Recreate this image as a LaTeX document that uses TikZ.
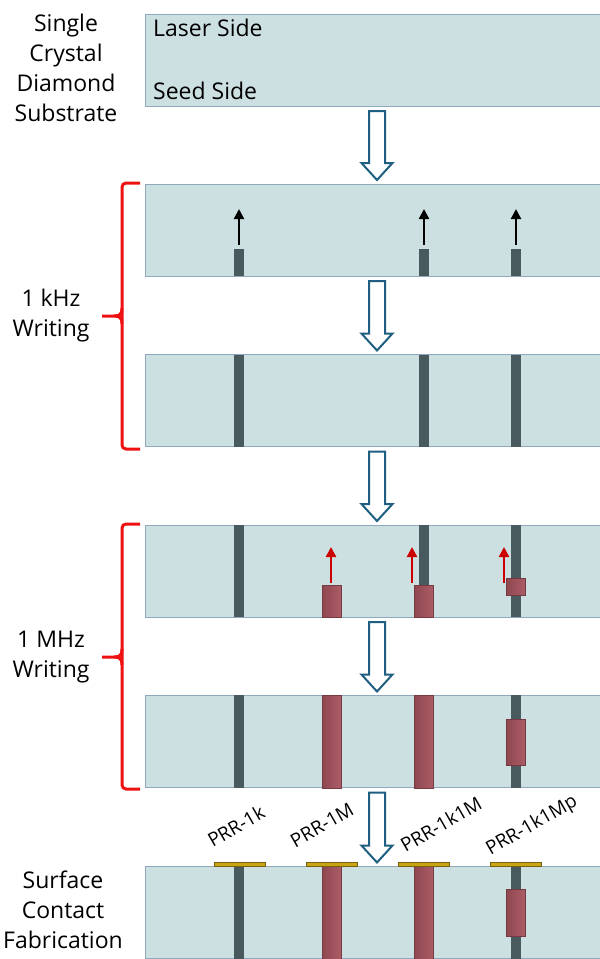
\documentclass[tikz,border=0pt]{standalone}
\usepackage{fontspec}
\setmainfont{Open Sans}
\usetikzlibrary{calc,arrows.meta}
\definecolor{boxfill}{HTML}{CDE0E1}
\definecolor{boxline}{HTML}{8FA9BC}
\definecolor{barc}{HTML}{485A5E}
\definecolor{pillarc}{HTML}{A8545E}
\definecolor{arrowc}{HTML}{1E5F82}
\definecolor{goldc}{HTML}{C8A416}
\definecolor{bracec}{HTML}{EE1111}
\definecolor{redarrow}{HTML}{CC0000}
\newcommand\flowarrow[2]{%
  \draw[flowline] ($(#1.south)+(-4,5)$) -- ($(#1.south)+(12,5)$) -- ($(#2.north)+(12,-21)$) -- ($(#2.north)+(19.5,-21)$) -- ($(#2.north)+(4,-4)$) -- ($(#2.north)+(-11.5,-21)$) -- ($(#2.north)+(-4,-21)$) -- cycle;}
\begin{document}
\begin{tikzpicture}[x=1pt,y=-1pt,
  panel/.style={draw=boxline,line width=0.8pt,fill=boxfill,minimum width=456pt,minimum height=92pt,inner sep=0pt,outer sep=0pt},
  flowline/.style={draw=arrowc,line width=2pt,fill=white,line join=miter},
  barfill/.style={fill=barc},
  pillar/.style={left color=pillarc!85!black,right color=pillarc!95!white,draw=pillarc!70!black,line width=0.4pt},
  pad/.style={fill=goldc,draw=goldc!60!black,line width=0.4pt},
  uparrow/.style={line width=2.2pt,-{Triangle[width=10pt,length=10pt]}},
  brace/.style={draw=bracec,line width=3pt,rounded corners=4pt},
  sidelabel/.style={align=center,font=\fontsize{23}{30}\selectfont,inner sep=0pt},
  txt/.style={font=\fontsize{23}{30}\selectfont,inner sep=0pt},
  prr/.style={font=\fontsize{19}{22}\selectfont,rotate=30,inner sep=0pt}]
\useasboundingbox (0,0) rectangle (600,959);
% panels
\node[panel] (p1) at (373,60) {};
\node[panel] (p2) at (373,230) {};
\node[panel] (p3) at (373,400.5) {};
\node[panel] (p4) at (373,571) {};
\node[panel] (p5) at (373,741.5) {};
\node[panel] (p6) at (373,912.5) {};
% panel 1 text
\node[txt,anchor=base west] (ls) at (153,36) {Laser Side};
\node[txt,anchor=base west] (ss) at (153,99) {Seed Side};
% panel 2: short bars + black arrows
\foreach \xx/\nm in {239/a,424/b,516/c}{
  \fill[barfill] (\xx-5,249) rectangle (\xx+5,276);
  \coordinate (b2\nm) at (\xx,245);
  \coordinate (t2\nm) at (\xx,209);
  \draw[uparrow] (b2\nm) -- (t2\nm);
}
% panel 3: full bars
\foreach \xx in {239,424,516}{
  \fill[barfill] (\xx-5,354.5) rectangle (\xx+5,446.5);
}
% panel 4
\foreach \xx in {239,424,516}{
  \fill[barfill] (\xx-5,525) rectangle (\xx+5,617);
}
\draw[pillar] (322,585) rectangle (341,617);
\draw[pillar] (414.5,585) rectangle (433.5,617);
\draw[pillar] (506.5,578) rectangle (525.5,595);
\foreach \xx/\nm in {331/a,412/b,504/c}{
  \coordinate (b4\nm) at (\xx,583);
  \coordinate (t4\nm) at (\xx,547);
  \draw[uparrow,draw=redarrow,fill=redarrow,line width=2.4pt] (b4\nm) -- (t4\nm);
}
% panel 5
\fill[barfill] (234,695) rectangle (244,788);
\fill[barfill] (511,695) rectangle (521,788);
\draw[pillar] (322,695) rectangle (341,788);
\draw[pillar] (414.5,695) rectangle (433.5,788);
\draw[pillar] (506.5,719) rectangle (525.5,765);
% panel 6
\fill[barfill] (234,866) rectangle (244,959);
\fill[barfill] (511,866) rectangle (521,959);
\draw[pillar] (322,866) rectangle (341,959);
\draw[pillar] (414.5,866) rectangle (433.5,959);
\draw[pillar] (506.5,889) rectangle (525.5,936);
\foreach \xx in {239.5,331.5,424,516}{
  \draw[pad] (\xx-25.5,862) rectangle (\xx+25.5,866);
}
% labels
\node[prr] (q1) at (236,826) {PRR-1k};
\node[prr] (q2) at (322,825) {PRR-1M};
\node[prr] (q3) at (441,824) {PRR-1k1M};
\node[prr] (q4) at (532,826) {PRR-1k1Mp};
% flow arrows
\flowarrow{p1}{p2}
\flowarrow{p2}{p3}
\flowarrow{p3}{p4}
\flowarrow{p4}{p5}
\flowarrow{p5}{p6}
% braces
\draw[brace] (140,183) -- (122,183) -- (122,449) -- (140,449);
\draw[draw=bracec,line width=3pt] (122,308) .. controls (122,314) and (120,316) .. (114,316) -- (102,316);
\draw[draw=bracec,line width=3pt] (122,324) .. controls (122,318) and (120,316) .. (114,316);
\draw[brace] (140,524) -- (122,524) -- (122,789) -- (140,789);
\draw[draw=bracec,line width=3pt] (122,649) .. controls (122,655) and (120,657) .. (114,657) -- (102,657);
\draw[draw=bracec,line width=3pt] (122,665) .. controls (122,659) and (120,657) .. (114,657);
% side labels
\node[sidelabel] (l1) at (66,68) {Single\\Crystal\\Diamond\\Substrate};
\node[sidelabel] (l2) at (51,316) {1 kHz\\Writing};
\node[sidelabel] (l3) at (51,657) {1 MHz\\Writing};
\node[sidelabel] (l4) at (63,910) {Surface\\Contact\\Fabrication};
\end{tikzpicture}
\end{document}
